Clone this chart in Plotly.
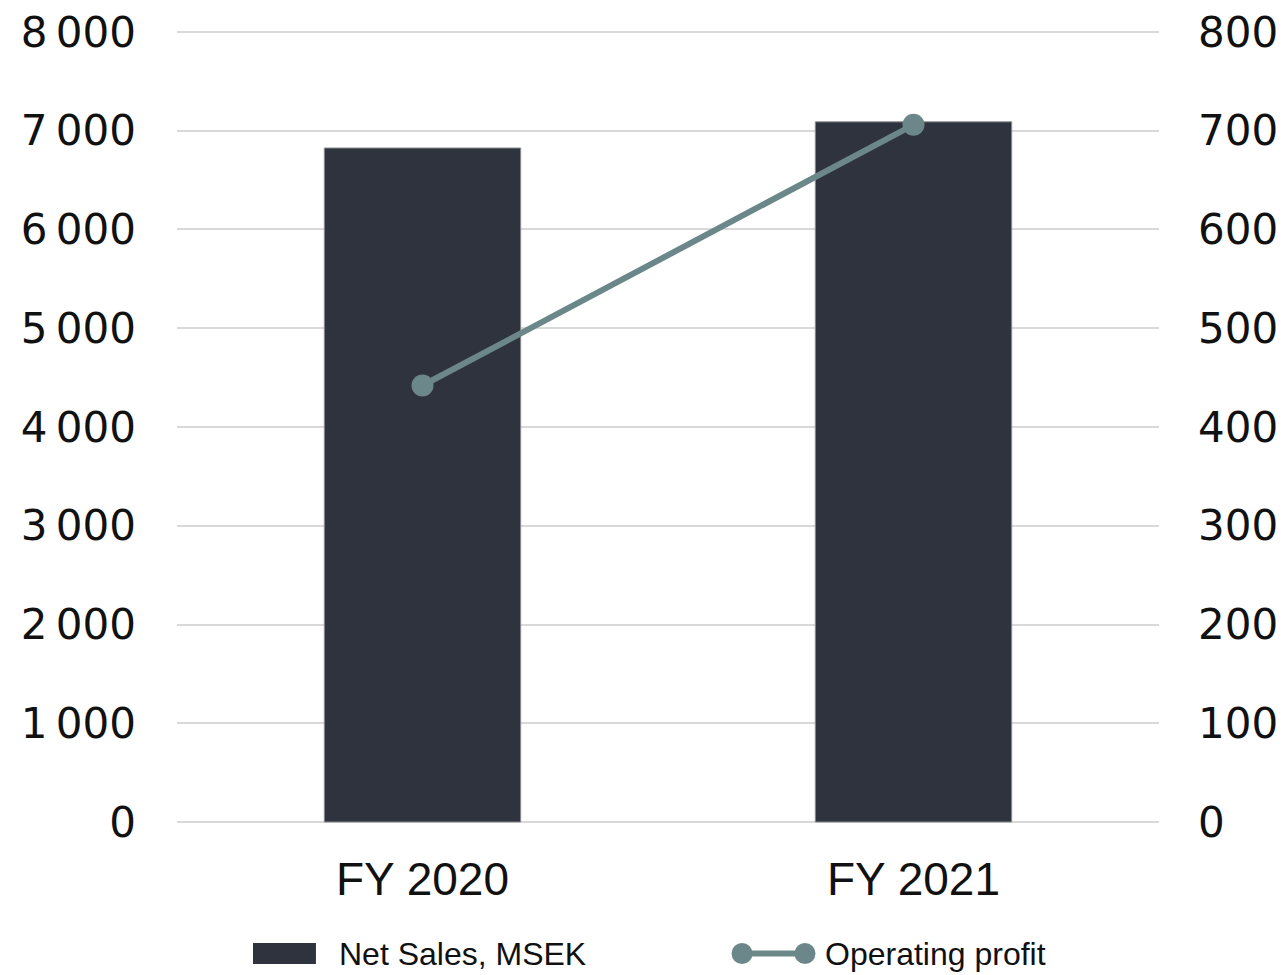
import plotly.graph_objects as go

categories = ["FY 2020", "FY 2021"]
net_sales = [6825, 7090]
operating_profit = [442, 706]

left_ticks = [0, 1000, 2000, 3000, 4000, 5000, 6000, 7000, 8000]
left_labels = ["0", "1\u2009000", "2\u2009000", "3\u2009000", "4\u2009000",
               "5\u2009000", "6\u2009000", "7\u2009000", "8\u2009000"]
right_ticks = [0, 100, 200, 300, 400, 500, 600, 700, 800]

series_names = ["Net Sales, MSEK", "Operating profit"]

BAR = "#2f333d"
LINE = "#6b8789"
GRID = "#d9d9d9"
TEXT = "#111111"
FONT = "Liberation Sans"
TICK_FONT = "DejaVu Sans"

fig = go.Figure()
fig.add_trace(go.Bar(
    x=categories, y=net_sales, name=series_names[0],
    marker=dict(color=BAR, line=dict(color="#8a8d93", width=1)),
    yaxis="y", showlegend=False,
))
fig.add_trace(go.Scatter(
    x=categories, y=operating_profit, name=series_names[1],
    mode="lines+markers",
    line=dict(color=LINE, width=6),
    marker=dict(color=LINE, size=22),
    yaxis="y2", showlegend=False,
))

# Legend drawn by hand below the plot area (paper coordinates)
legend_y = -0.1631
shapes = [
    dict(type="rect", xref="paper", yref="paper",
         x0=0.0774, x1=0.1415, y0=-0.1763, y1=-0.1499,
         fillcolor=BAR, line=dict(width=0)),
    dict(type="line", xref="paper", yref="paper",
         x0=0.5754, x1=0.6395, y0=legend_y, y1=legend_y,
         line=dict(color=LINE, width=6)),
]
for cx in (0.5754, 0.6395):
    shapes.append(dict(
        type="circle", xref="paper", yref="paper",
        xsizemode="pixel", ysizemode="pixel",
        xanchor=cx, yanchor=legend_y,
        x0=-10.5, x1=10.5, y0=-10.5, y1=10.5,
        fillcolor=LINE, line=dict(width=0),
    ))

annotations = [
    dict(text=series_names[0], xref="paper", yref="paper", x=0.1629, y=legend_y,
         xanchor="left", yanchor="middle", showarrow=False,
         font=dict(family=FONT, size=32, color=TEXT)),
    dict(text=series_names[1], xref="paper", yref="paper", x=0.6578, y=legend_y,
         xanchor="left", yanchor="middle", showarrow=False,
         font=dict(family=FONT, size=32, color=TEXT)),
]

fig.update_layout(
    width=1288, height=975,
    margin=dict(l=177, r=129, t=30, b=151, autoexpand=False),
    paper_bgcolor="white", plot_bgcolor="white",
    bargap=0.6,
    font=dict(family=FONT, color=TEXT),
    showlegend=False,
    shapes=shapes,
    annotations=annotations,
    xaxis=dict(
        showgrid=False, showline=False, zeroline=False, automargin=False,
        tickfont=dict(family=FONT, size=46, color=TEXT), ticks="", ticklen=0,
        ticklabelstandoff=24,
    ),
    yaxis=dict(
        range=[-20, 8020], tickvals=left_ticks, ticktext=left_labels,
        showgrid=True, gridcolor=GRID, gridwidth=2, zeroline=False, showline=False,
        automargin=False,
        tickfont=dict(family=TICK_FONT, size=42, color=TEXT), ticklabelstandoff=40,
    ),
    yaxis2=dict(
        range=[-2, 802], tickvals=right_ticks, overlaying="y", side="right",
        showgrid=False, zeroline=False, showline=False, automargin=False,
        tickfont=dict(family=TICK_FONT, size=42, color=TEXT), ticklabelstandoff=38,
    ),
)

fig.write_html("out.html")
